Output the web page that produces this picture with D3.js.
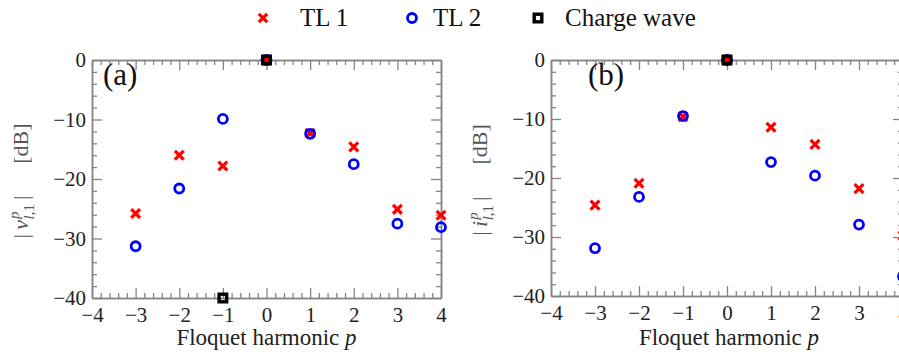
<!DOCTYPE html>
<html><head><meta charset="utf-8">
<script src="https://cdn.jsdelivr.net/npm/d3@7/dist/d3.min.js"></script>
<style>
body{margin:0;background:#fff;}
svg{display:block;font-family:"Liberation Serif","Times New Roman",serif;}
svg text{font-family:"Liberation Serif","Times New Roman",serif !important;}
</style></head>
<body><svg id="c" width="899" height="354"></svg>
<script>
// ---- data ----
const harmonics = [-3, -2, -1, 0, 1, 2, 3, 4];
const xTicks = [-4, -3, -2, -1, 0, 1, 2, 3, 4];
const yTicks = [0, -10, -20, -30, -40];
// panel (a): voltage |v^p_{l,1}| [dB]
const tl1_a = [-25.8, -16.0, -17.8, 0, -12.3, -14.6, -25.1, -26.1];
const tl2_a = [-31.3, -21.6, -9.9, 0, -12.4, -17.5, -27.5, -28.1];
const chargeP_a = [0, -1];
const chargeV_a = [0, -40];
// panel (b): current |i^p_{l,1}| [dB]
const tl1_b = [-24.6, -20.9, -9.6, 0, -11.4, -14.3, -21.8, -29.8];
const tl2_b = [-31.9, -23.2, -9.5, 0, -17.3, -19.6, -27.9, -36.7];
const chargeP_b = [0];
const chargeV_b = [0];
const legendLabels = ["TL 1", "TL 2", "Charge wave"];

const svg = d3.select("#c");
const axisCol = "#858585";

function xMarker(g, x, y, s) {
  g.append("path").attr("d", `M${x-s},${y-s}L${x+s},${y+s}M${x-s},${y+s}L${x+s},${y-s}`)
    .attr("stroke", "#ff0000").attr("stroke-width", 3.2).attr("fill", "none");
}
function oMarker(g, x, y) {
  g.append("circle").attr("cx", x).attr("cy", y).attr("r", 4.5)
    .attr("stroke", "#0000ff").attr("stroke-width", 2.8).attr("fill", "none");
}
function sqMarker(g, x, y, fill) {
  g.append("rect").attr("x", x-3.8).attr("y", y-3.8).attr("width", 7.6).attr("height", 7.6)
    .attr("stroke", "#000").attr("stroke-width", 3.4).attr("fill", fill);
}

function panel(opt) {
  const x = d3.scaleLinear().domain([-4, 4]).range([opt.left, opt.right]);
  const y = d3.scaleLinear().domain([0, -40]).range([opt.top, opt.bottom]);
  const g = svg.append("g");
  const minorX = d3.range(-4, 4.0001, 0.2).map(v => +v.toFixed(2)).filter(v => Math.abs(v - Math.round(v)) > 1e-6);
  const minorY = d3.range(0, -40.001, -2).filter(v => v % 10 !== 0);
  const style = sel => {
    sel.attr("font-family", null);
    sel.select(".domain").attr("stroke", axisCol).attr("stroke-width", 1.5);
    sel.selectAll(".tick line").attr("stroke", axisCol).attr("stroke-width", 1.3);
    sel.selectAll("text").attr("fill", "#222").attr("font-size", 21);
  };
  // bottom
  g.append("g").attr("transform", `translate(0,${opt.bottom})`)
    .call(d3.axisBottom(x).tickValues(xTicks).tickSizeInner(-10).tickSizeOuter(0).tickPadding(9).tickFormat(d3.format("d")))
    .call(style);
  g.append("g").attr("transform", `translate(0,${opt.bottom})`)
    .call(d3.axisBottom(x).tickValues(minorX).tickSizeInner(-5).tickSizeOuter(0).tickFormat(""))
    .call(style);
  // top
  g.append("g").attr("transform", `translate(0,${opt.top})`)
    .call(d3.axisTop(x).tickValues(xTicks).tickSizeInner(-10).tickSizeOuter(0).tickFormat(""))
    .call(style);
  g.append("g").attr("transform", `translate(0,${opt.top})`)
    .call(d3.axisTop(x).tickValues(minorX).tickSizeInner(-5).tickSizeOuter(0).tickFormat(""))
    .call(style);
  // left
  g.append("g").attr("transform", `translate(${opt.left},0)`)
    .call(d3.axisLeft(y).tickValues(yTicks).tickSizeInner(-10).tickSizeOuter(0).tickPadding(6).tickFormat(d3.format("d")))
    .call(style);
  g.append("g").attr("transform", `translate(${opt.left},0)`)
    .call(d3.axisLeft(y).tickValues(minorY).tickSizeInner(-5).tickSizeOuter(0).tickFormat(""))
    .call(style);
  // right
  g.append("g").attr("transform", `translate(${opt.right},0)`)
    .call(d3.axisRight(y).tickValues(yTicks).tickSizeInner(-10).tickSizeOuter(0).tickFormat(""))
    .call(style);
  g.append("g").attr("transform", `translate(${opt.right},0)`)
    .call(d3.axisRight(y).tickValues(minorY).tickSizeInner(-5).tickSizeOuter(0).tickFormat(""))
    .call(style);

  // panel letter
  g.append("text").attr("x", opt.letterX).attr("y", opt.top + 25).attr("font-size", 31)
    .attr("fill", "#111").text(opt.letter);

  // x label
  const xl = g.append("text").attr("x", (opt.left + Math.min(opt.right, 897)) / 2 + opt.xlShift)
    .attr("y", 345).attr("text-anchor", "middle").attr("font-size", 23).attr("fill", "#222");
  xl.append("tspan").text("Floquet harmonic ");
  xl.append("tspan").attr("font-style", "italic").text("p");

  // y label
  const cy = (opt.top + opt.bottom) / 2 + 2;
  const yl = g.append("text").attr("transform", `translate(${opt.left - 64},${cy}) rotate(-90)`)
    .attr("text-anchor", "middle").attr("font-size", 22).attr("fill", "#555");
  yl.append("tspan").text("|\u2009");
  yl.append("tspan").attr("font-style", "italic").text(opt.sym);
  yl.append("tspan").attr("font-style", "italic").attr("font-size", 15).attr("dy", -9).attr("dx", 1).text("p");
  yl.append("tspan").attr("font-style", "italic").attr("font-size", 15).attr("dy", 15).attr("dx", -8).text("l");
  yl.append("tspan").attr("font-size", 15).text(",1");
  yl.append("tspan").attr("dy", -6).attr("dx", 4).text("|");
  yl.append("tspan").attr("dx", 32).text("[dB]");

  // markers
  const mg = g.append("g");
  harmonics.forEach((p, i) => xMarker(mg, x(p), y(opt.tl1[i]), 4.4));
  harmonics.forEach((p, i) => oMarker(mg, x(p), y(opt.tl2[i])));
  opt.cp.forEach((p, i) => sqMarker(mg, x(p), y(opt.cv[i]), "none"));
}

panel({left: 92, right: 441, top: 60, bottom: 298, letter: "(a)", letterX: 103, sym: "v",
  tl1: tl1_a, tl2: tl2_a, cp: chargeP_a, cv: chargeV_a, xlShift: 0});
panel({left: 551, right: 903, top: 60, bottom: 296, letter: "(b)", letterX: 588, sym: "i",
  tl1: tl1_b, tl2: tl2_b, cp: chargeP_b, cv: chargeV_b, xlShift: 5});

// legend
const lg = svg.append("g");
const ly = 18;
xMarker(lg, 263, ly, 4.2);
oMarker(lg, 412, ly);
sqMarker(lg, 538, ly, "#fff");
[[300, legendLabels[0]], [433, legendLabels[1]], [565, legendLabels[2]]].forEach(([lx, t]) =>
  lg.append("text").attr("x", lx).attr("y", 26).attr("font-size", 25).attr("fill", "#111").text(t));
</script></body></html>
